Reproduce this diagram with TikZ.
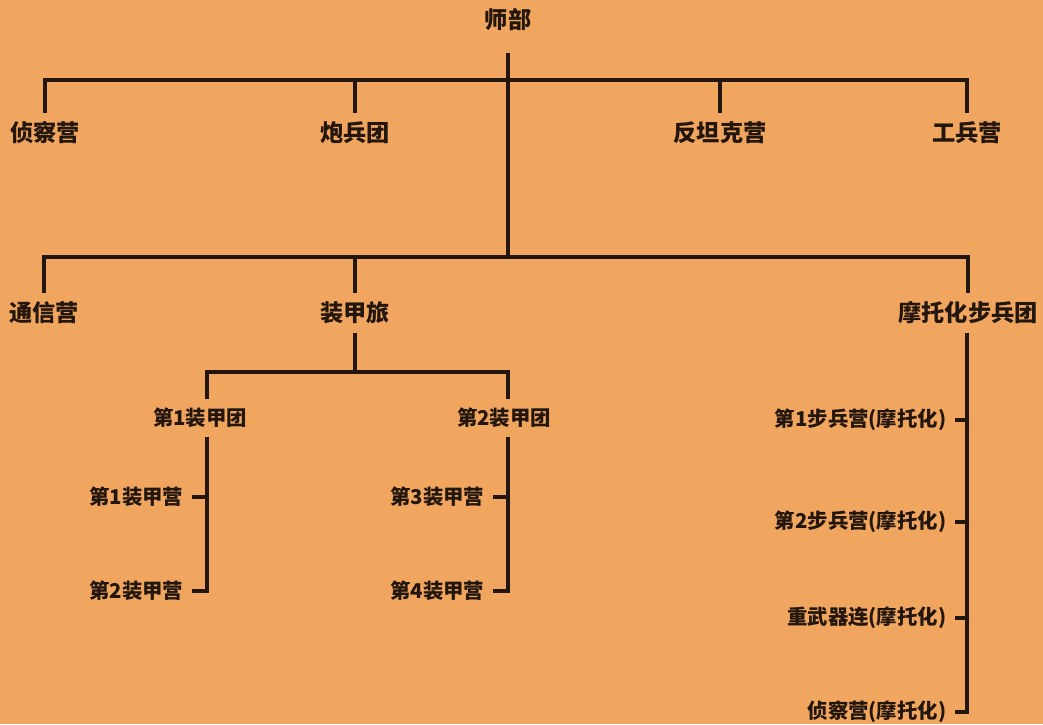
\documentclass[tikz,border=0pt]{standalone}
\usepackage{fontspec}
\setmainfont{Noto Sans CJK SC}
\usetikzlibrary{positioning,calc}
\definecolor{paper}{RGB}{241,166,96}
\definecolor{ink}{RGB}{34,22,14}
\tikzset{
	unit/.style = {font=\bfseries\fontsize{16.5}{18}\selectfont, text=ink, inner sep=6pt},
	subunit/.style = {font=\bfseries\fontsize{14.5}{16}\selectfont, text=ink, inner sep=6pt},
	battalion/.style = {subunit, anchor=east},
	link/.style = {draw=ink, line width=2.2pt}
}

\begin{document}
\begin{tikzpicture}[x=0.025cm,y=-0.025cm]
\fill [paper] (0,0) rectangle (1043,724);
\useasboundingbox (0,0) rectangle (1043,724);

\node [unit] (hq) at (508,20) {师部};
\coordinate (j1) at (508,80);
\coordinate (j2) at (508,257);

\node [unit] (recon) at (45,133) {侦察营};
\node [unit] (arty) at (355,133) {炮兵团};
\node [unit] (antitank) at (720,133) {反坦克营};
\node [unit] (engineer) at (967,133) {工兵营};

\node [unit] (signal) at (44,313) {通信营};
\node [unit] (armbde) at (355,313) {装甲旅};
\node [unit] (motreg) at (968,313) {摩托化步兵团};

\coordinate (s1) at (207,372);
\coordinate (s2) at (508,372);
\node [subunit] (armreg1) at (200,418) {第1装甲团};
\node [subunit] (armreg2) at (504,418) {第2装甲团};

\node [battalion] (bn1) at (192,497) {第1装甲营};
\node [battalion] (bn2) at (192,591) {第2装甲营};
\node [battalion] (bn3) at (493,497) {第3装甲营};
\node [battalion] (bn4) at (493,591) {第4装甲营};

\node [battalion] (mot1) at (955,420) {第1步兵营(摩托化)};
\node [battalion] (mot2) at (955,522) {第2步兵营(摩托化)};
\node [battalion] (heavy) at (955,618) {重武器连(摩托化)};
\node [battalion] (motrec) at (955,712) {侦察营(摩托化)};

\draw [link, shorten <=9pt] (hq.south) -- (j2);
\draw [link] (recon.north) |- (j1) -| (engineer.north);
\draw [link] (arty.north) -- (arty.north |- j1);
\draw [link] (antitank.north) -- (antitank.north |- j1);

\draw [link] (signal.north) |- (j2) -| (motreg.north);
\draw [link] (armbde.north) -- (armbde.north |- j2);

\draw [link] (armbde.south) -- (armbde.south |- s1);
\draw [link] (s1 |- armreg1.north) |- (s2) -- (s2 |- armreg2.north);

\draw [link] (s1 |- armreg1.south) |- (bn2.east);
\draw [link] (bn1.east) -- (bn1.east -| s1);
\draw [link] (s2 |- armreg2.south) |- (bn4.east);
\draw [link] (bn3.east) -- (bn3.east -| s2);

\draw [link] (motreg.south -| engineer.north) |- (motrec.east);
\draw [link] (mot1.east) -- (mot1.east -| motreg.south);
\draw [link] (mot2.east) -- (mot2.east -| motreg.south);
\draw [link] (heavy.east) -- (heavy.east -| motreg.south);
\end{tikzpicture}
\end{document}
